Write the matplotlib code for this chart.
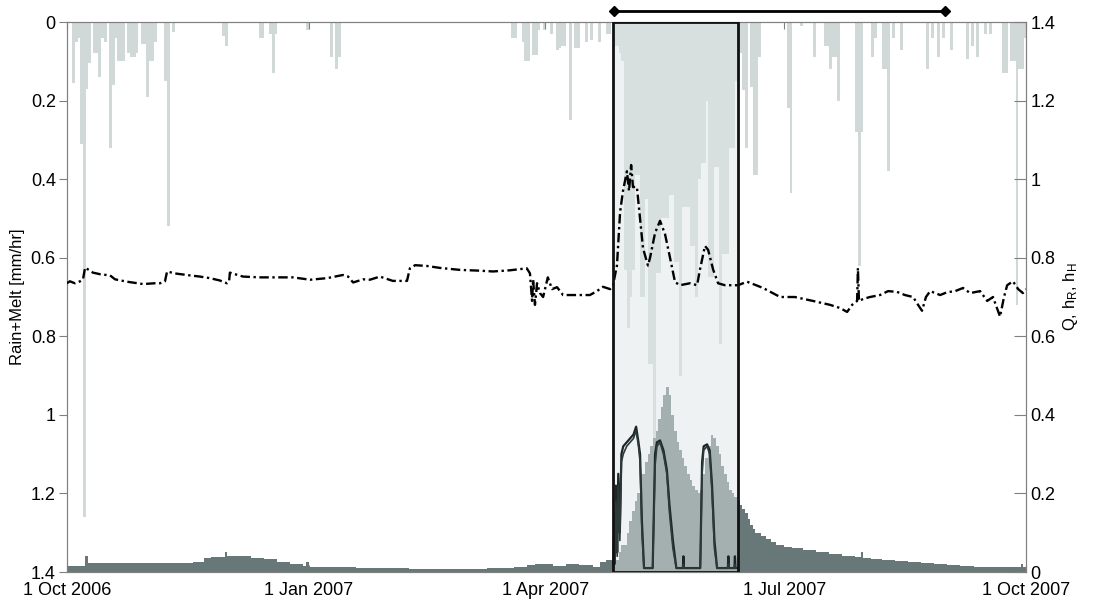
import numpy as np
import matplotlib.pyplot as plt
from matplotlib.patches import Rectangle
from matplotlib.transforms import blended_transform_factory
from datetime import date

plt.rcParams['font.family'] = ['Liberation Sans', 'DejaVu Sans']
plt.rcParams['mathtext.default'] = 'regular'

# day offsets are counted from 1 Oct 2006
start = date(2006, 10, 1)
tick_dates = [date(2006, 10, 1), date(2007, 1, 1), date(2007, 4, 1),
              date(2007, 7, 1), date(2007, 10, 1)]
tick_labels = ['1 Oct 2006', '1 Jan 2007', '1 Apr 2007', '1 Jul 2007', '1 Oct 2007']

# rain + melt [mm/hr], hanging bars from the top (left axis, inverted)
rain_day = [2, 3, 4, 5, 6, 7, 8, 10, 11, 12, 13, 14, 16, 17, 18, 19, 20, 21,
            23, 24, 25, 26, 28, 29, 30, 31, 32, 33, 37, 38, 40, 59, 60, 73, 74,
            77, 78, 79, 91, 100, 102, 103, 169, 170, 173, 174, 175, 177, 178,
            179, 181, 184, 186, 187, 188, 189, 191, 193, 194, 197, 199, 202,
            205, 206,
            208, 209, 210, 211, 212, 213, 214, 215, 216, 217, 218, 219, 220,
            221, 222, 223, 224, 225, 226, 227, 228, 229, 230, 231, 232, 233,
            234, 235, 236, 237, 238, 239, 240, 241, 242, 243, 244, 245, 246,
            247, 248, 249, 250, 251, 252, 253, 254, 255,
            256, 257, 258, 260, 261, 262, 263, 274, 275, 279, 284, 288, 289,
            290, 291, 292, 293, 300, 301, 302, 306, 307, 310, 311, 312, 314,
            317, 327, 329, 331, 333, 336, 342, 344, 346, 349, 351, 356, 357,
            359, 360, 361, 362, 363, 364]
rain_val = [0.155, 0.05, 0.04, 0.31, 1.26, 0.17, 0.105, 0.08, 0.08, 0.14, 0.04,
            0.05, 0.32, 0.16, 0.04, 0.10, 0.10, 0.10, 0.08, 0.09, 0.09, 0.08,
            0.055, 0.055, 0.19, 0.10, 0.10, 0.05, 0.15, 0.52, 0.025, 0.035,
            0.06, 0.04, 0.04, 0.03, 0.13, 0.03, 0.02, 0.09, 0.12, 0.09, 0.04,
            0.04, 0.05, 0.10, 0.10, 0.085, 0.085, 0.02, 0.02, 0.03, 0.07,
            0.065, 0.06, 0.06, 0.25, 0.065, 0.065, 0.05, 0.045, 0.05, 0.03,
            0.03,
            0.06, 0.06, 0.08, 0.10, 0.63, 0.78, 0.70, 0.63, 0.39, 0.39, 0.70,
            0.70, 0.45, 0.87, 0.87, 1.06, 0.64, 0.64, 0.50, 0.50, 0.50, 0.44,
            0.44, 0.61, 0.61, 0.90, 0.47, 0.47, 0.47, 0.57, 0.57, 0.70, 0.40,
            0.36, 0.36, 0.20, 0.65, 0.65, 0.37, 0.37, 0.82, 0.59, 0.59, 0.59,
            0.32, 0.32, 0.15, 0.15,
            0.08, 0.173, 0.32, 0.165, 0.39, 0.39, 0.09, 0.22, 0.435, 0.01,
            0.09, 0.06, 0.06, 0.12, 0.09, 0.09, 0.20, 0.28, 0.62, 0.28, 0.09,
            0.04, 0.12, 0.12, 0.38, 0.04, 0.07, 0.12, 0.04, 0.09, 0.04, 0.07,
            0.095, 0.06, 0.09, 0.03, 0.03, 0.13, 0.13, 0.10, 0.10, 0.72, 0.12,
            0.12, 0.04]

# discharge Q (right axis)
q_day = [0, 6, 7, 8, 20, 30, 40, 48, 52, 55, 58, 60, 61, 65, 70, 75, 80, 85,
         90, 91, 92, 95, 110, 130, 150, 160, 170, 175, 178, 185, 190, 195, 200,
         203, 205, 208, 210, 211, 213, 214, 215, 216, 217, 218, 219, 220, 221,
         222, 223, 224, 225, 226, 227, 228, 229, 230, 231, 232, 233, 234, 235,
         236, 237, 238, 239, 240, 241, 242, 243, 244, 245, 246, 247, 248, 249,
         250, 251, 252, 253, 254, 255, 256, 257, 258, 259, 260, 261, 262, 264,
         266, 268, 270, 273, 276, 280, 285, 290, 295, 300, 302, 303, 306, 310,
         315, 320, 325, 330, 335, 340, 345, 350, 355, 360, 363, 364, 365]
q_val = [0.015, 0.015, 0.04, 0.023, 0.023, 0.022, 0.022, 0.025, 0.035, 0.038,
         0.037, 0.05, 0.042, 0.04, 0.036, 0.032, 0.025, 0.02, 0.015, 0.025,
         0.014, 0.013, 0.01, 0.008, 0.007, 0.01, 0.012, 0.018, 0.02, 0.016,
         0.02, 0.018, 0.012, 0.025, 0.03, 0.03, 0.05, 0.07, 0.10, 0.13, 0.155,
         0.18, 0.20, 0.22, 0.25, 0.28, 0.30, 0.32, 0.34, 0.36, 0.39, 0.42,
         0.45, 0.47, 0.45, 0.40, 0.36, 0.33, 0.31, 0.29, 0.27, 0.25, 0.235,
         0.22, 0.21, 0.20, 0.21, 0.25, 0.29, 0.32, 0.35, 0.34, 0.32, 0.30,
         0.27, 0.25, 0.23, 0.21, 0.20, 0.19, 0.18, 0.17, 0.16, 0.15, 0.135,
         0.12, 0.11, 0.10, 0.092, 0.085, 0.077, 0.07, 0.064, 0.06, 0.055, 0.05,
         0.045, 0.041, 0.038, 0.05, 0.035, 0.033, 0.03, 0.027, 0.025, 0.022,
         0.02, 0.018, 0.016, 0.014, 0.013, 0.012, 0.012, 0.02, 0.012, 0.012]

# dash-dot series (right axis)
d_day = [0, 1.1, 3, 5, 6.1, 6.9, 9.9, 12.6, 16.4, 18.3, 22.8, 28.9, 33.5, 35.4,
         37.3, 38.1, 41.1, 46.8, 50.6, 54.4, 58.2, 60.9, 61.7, 62, 67, 73.5,
         81, 86, 92.5, 99, 105, 107, 108.9, 112.7, 115.3, 119.1, 124, 129.4,
         130.5, 132.5, 137, 142, 149.6, 157.2, 162.1, 168.6, 175, 176.2, 177,
         177.4, 178.1, 178.9, 180, 181.2, 183, 184.6, 186.5, 188.8, 193.3, 199,
         201.7, 204, 206.7, 207.8, 209.3, 210.5, 211.6, 213.1, 213.9, 214.7,
         215.4, 216.9, 218.1, 219.2, 221.1, 221.9, 223.8, 225.7, 227.6, 229.5,
         231.4, 233.3, 237.1, 239.8, 240.9, 242.8, 244, 245.9, 247.8, 250.4,
         255.4, 258.8, 264.9, 271.4, 277, 283.9, 290.4, 294.2, 296.9, 298.8,
         300.7, 301, 301.4, 303, 305.6, 309.4, 312.5, 315.9, 318.9, 322, 323.9,
         325.4, 326.9, 328.5, 332.3, 334.9, 338, 341, 343.7, 347.5, 350.2,
         352.4, 354, 355.1, 356.6, 357.8, 360, 362, 363.8, 365]
d_val = [0.735, 0.74, 0.735, 0.74, 0.745, 0.775, 0.762, 0.758, 0.755, 0.745,
         0.739, 0.733, 0.735, 0.735, 0.74, 0.765, 0.76, 0.755, 0.752, 0.748,
         0.742, 0.735, 0.74, 0.762, 0.752, 0.75, 0.75, 0.75, 0.744, 0.748,
         0.756, 0.752, 0.737, 0.745, 0.744, 0.752, 0.741, 0.741, 0.773, 0.781,
         0.779, 0.774, 0.769, 0.767, 0.765, 0.768, 0.773, 0.76, 0.69, 0.745,
         0.68, 0.735, 0.71, 0.70, 0.75, 0.72, 0.725, 0.705, 0.705, 0.705,
         0.715, 0.726, 0.72, 0.73, 0.78, 0.916, 0.97, 1.02, 0.97, 1.036, 0.98,
         0.98, 0.90, 0.825, 0.78, 0.80, 0.863, 0.894, 0.86, 0.80, 0.738, 0.73,
         0.735, 0.73, 0.77, 0.83, 0.82, 0.77, 0.735, 0.73, 0.73, 0.739, 0.723,
         0.70, 0.70, 0.69, 0.68, 0.672, 0.662, 0.68, 0.69, 0.774, 0.69, 0.695,
         0.70, 0.705, 0.715, 0.713, 0.705, 0.70, 0.68, 0.665, 0.70, 0.715,
         0.705, 0.712, 0.715, 0.723, 0.71, 0.715, 0.69, 0.70, 0.67, 0.65, 0.70,
         0.73, 0.74, 0.72, 0.71, 0.72]

# h_R and h_H inside the highlighted window
h_day = [207.9, 208.2, 208.5, 208.9, 209.4, 209.8, 210.4, 211, 211.7, 213,
         214.3, 215.6, 216.6, 217.5, 218.1, 218.8, 219.6, 222.9, 223.8, 224.5,
         225.7, 227, 228.3, 229.3, 230.6, 231.9, 234.4, 234.6, 234.8, 241,
         241.7, 242.3, 243.6, 244.6, 245.5, 246.4, 247.4, 251.5, 251.7, 251.9,
         254, 254.2, 254.4, 255.4]
hR_val = [0.02, 0.09, 0.03, 0.22, 0.05, 0.25, 0.10, 0.30, 0.32, 0.33, 0.34,
          0.35, 0.37, 0.33, 0.30, 0.13, 0.01, 0.01, 0.30, 0.33, 0.335, 0.31,
          0.26, 0.17, 0.08, 0.01, 0.01, 0.04, 0.01, 0.01, 0.28, 0.32, 0.325,
          0.31, 0.22, 0.08, 0.01, 0.01, 0.04, 0.01, 0.01, 0.04, 0.01, 0.01]
hH_val = [0.01, 0.06, 0.02, 0.18, 0.04, 0.22, 0.08, 0.28, 0.30, 0.32, 0.33,
          0.34, 0.36, 0.32, 0.28, 0.10, 0.01, 0.01, 0.27, 0.32, 0.33, 0.30,
          0.25, 0.15, 0.06, 0.01, 0.01, 0.02, 0.01, 0.01, 0.25, 0.31, 0.32,
          0.30, 0.20, 0.06, 0.01, 0.01, 0.02, 0.01, 0.01, 0.02, 0.01, 0.01]

# window of the box and of the bracket above the plot (day offsets)
box_span = [207.7, 255.4]
bracket_span = [208.2, 334.2]

tick_pos = [(d - start).days for d in tick_dates]
yticks = [0, 0.2, 0.4, 0.6, 0.8, 1, 1.2, 1.4]
ylabels = ['0', '0.2', '0.4', '0.6', '0.8', '1', '1.2', '1.4']

fig = plt.figure(figsize=(10.96, 6.03), dpi=100)
ax = fig.add_axes([0.0611, 0.0514, 0.8751, 0.9121])
ax2 = ax.twinx()

ax.bar(rain_day, rain_val, width=1.1, align='edge', color='#d0d8d8', linewidth=0)
ax.set_ylim(1.4, 0)
ax.set_xlim(tick_pos[0], tick_pos[-1])
ax.set_yticks(yticks)
ax.set_yticklabels(ylabels)
ax.set_xticks(tick_pos)
ax.set_xticklabels(tick_labels)
ax.set_ylabel('Rain+Melt [mm/hr]', fontsize=12, labelpad=4)

ax2.fill_between(q_day, 0, q_val, step='post', color='#687878', linewidth=0, zorder=1)
ax2.axvspan(box_span[0], box_span[1], color='#e1e7e7', alpha=0.5, linewidth=0, zorder=2)
ax2.plot(d_day, d_val, color='black', linestyle=(0, (4, 1.5, 1, 1.5)),
         linewidth=1.7, zorder=4)
ax2.plot(h_day, hR_val, color='#1c2626', linewidth=1.6, zorder=4)
ax2.plot(h_day, hH_val, color='#2e3a3a', linewidth=1.2, zorder=4)
ax2.add_patch(Rectangle((box_span[0], 0), box_span[1] - box_span[0], 1.4,
                        fill=False, edgecolor='#111111', linewidth=2, zorder=5))
ax2.set_ylim(0, 1.4)
ax2.set_xlim(tick_pos[0], tick_pos[-1])
ax2.set_yticks(yticks)
ax2.set_yticklabels(ylabels)
ax2.set_ylabel('Q, h$_R$, h$_H$', fontsize=12, labelpad=4)

# bracket above the plot
tr = blended_transform_factory(ax2.transData, ax2.transAxes)
ax2.plot(bracket_span, [1.02, 1.02], color='black', linewidth=2, marker='D',
         markersize=5, transform=tr, clip_on=False)

for a in (ax, ax2):
    for s in a.spines.values():
        s.set_color('#808080')
ax.tick_params(axis='y', direction='out', length=6, color='#808080',
               labelsize=13, pad=2)
ax.tick_params(axis='x', direction='in', length=5, color='#808080',
               labelsize=13, top=True, pad=7)
ax2.tick_params(axis='y', direction='in', length=9, color='#808080',
                labelsize=13, pad=3)

fig.savefig('out.png', dpi=100)
